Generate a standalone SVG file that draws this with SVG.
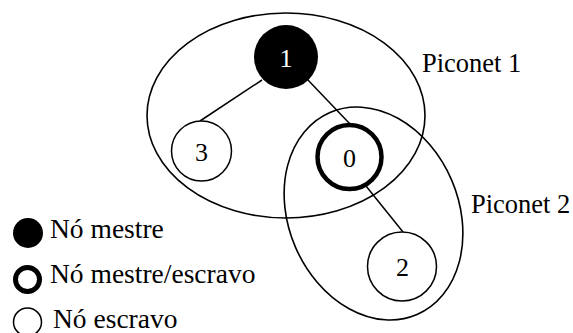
<svg xmlns="http://www.w3.org/2000/svg" width="573" height="333" viewBox="0 0 573 333">
<style>
  text { font-family: 'Liberation Serif', 'Times New Roman', serif; font-size: 26px; fill: #000; }
  .c { text-anchor: middle; }
  .w { fill: #fff; }
  .p { font-size: 26.5px; }
  .l { font-size: 27.5px; }
  .edge { stroke: #000; stroke-width: 1.5; fill: none; }
  .pico { stroke: #000; stroke-width: 1.6; fill: none; }
  .slave { stroke: #000; stroke-width: 1.5; fill: #fff; }
</style>
<rect width="573" height="333" fill="#fff"/>
<g id="piconet1">
  <ellipse class="pico" cx="286" cy="115.5" rx="139" ry="102.5"/>
  <text class="p" x="422" y="72">Piconet 1</text>
</g>
<g id="piconet2">
  <ellipse class="pico" cx="0" cy="0" rx="85" ry="110" transform="translate(373.5,213.5) rotate(-23.3)"/>
  <text class="p" x="471" y="213">Piconet 2</text>
</g>
<g id="connectors">
  <line class="edge" x1="262" y1="80" x2="200" y2="121"/>
  <line class="edge" x1="307" y1="79" x2="350" y2="124"/>
  <line class="edge" x1="366" y1="186" x2="403" y2="232"/>
</g>
<g id="node1">
  <circle cx="286" cy="57" r="32" fill="#000"/>
  <text class="c w" x="286" y="67">1</text>
</g>
<g id="node3">
  <circle class="slave" cx="201.5" cy="151" r="30"/>
  <text class="c" x="201.5" y="161">3</text>
</g>
<g id="node0">
  <circle cx="349.5" cy="157" r="32" fill="#fff" stroke="#000" stroke-width="4.5"/>
  <text class="c" x="349.5" y="167">0</text>
</g>
<g id="node2">
  <circle class="slave" cx="402" cy="266.5" r="34.5"/>
  <text class="c" x="402.5" y="276">2</text>
</g>
<g id="legend">
  <circle cx="28" cy="233" r="15" fill="#000"/>
  <text class="l" x="50" y="238">Nó mestre</text>
  <circle cx="27.5" cy="279.5" r="12" fill="#fff" stroke="#000" stroke-width="5"/>
  <text class="l" x="50" y="283">Nó mestre/escravo</text>
  <circle cx="27.5" cy="322" r="14" fill="#fff" stroke="#000" stroke-width="1.5"/>
  <text class="l" x="53" y="328">Nó escravo</text>
</g>
</svg>
